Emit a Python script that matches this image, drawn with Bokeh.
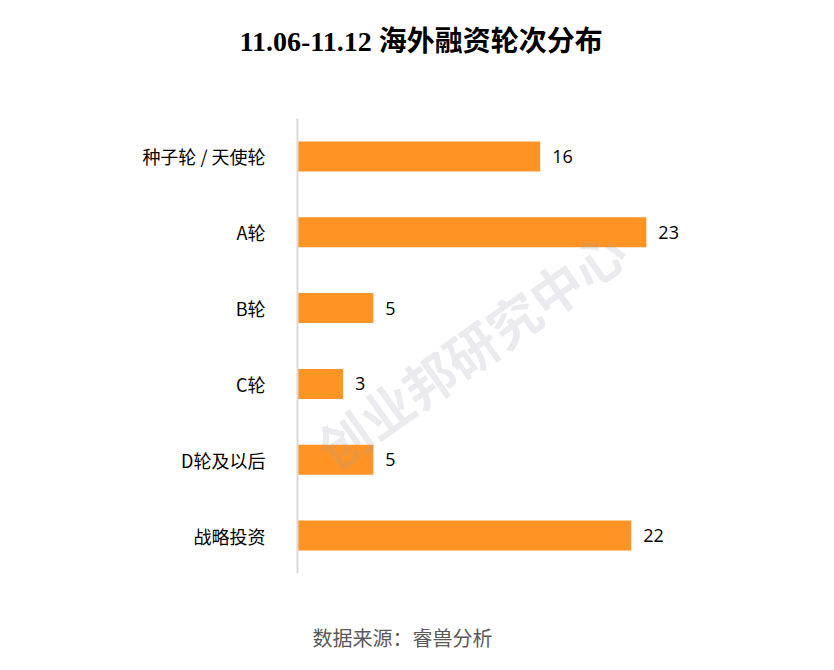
from bokeh.plotting import figure
from bokeh.models import FactorRange, Range1d, Label, ColumnDataSource, Title
from bokeh.core.properties import value
from bokeh.embed import file_html
from bokeh.resources import INLINE

categories = ["种子轮 / 天使轮", "A轮", "B轮", "C轮", "D轮及以后", "战略投资"]
counts = [16, 23, 5, 3, 5, 22]
title_text = "11.06-11.12 海外融资轮次分布"
source_text = "数据来源：睿兽分析"
watermark_text = "创业邦研究中心"

W, H = 834, 670
p = figure(width=W, height=H, output_backend="svg", toolbar_location=None,
           y_range=FactorRange(factors=categories[::-1], range_padding=0),
           x_range=Range1d(0, 30), title=None,
           min_border_left=297, min_border_right=82, min_border_top=118, min_border_bottom=97)
p.outline_line_color = None
p.xgrid.visible = False
p.ygrid.visible = False
p.xaxis.visible = False

src = ColumnDataSource(dict(cat=categories, val=counts, lab=[str(v) for v in counts]))
p.hbar(y="cat", right="val", left=0, height=0.395, source=src, color="#FF9424", line_color=None)
p.text(x="val", y="cat", text="lab", source=src, x_offset=12, text_baseline="middle",
       text_align="left", text_font=value("Open Sans"), text_font_size="18px", text_color="#000000")

ax = p.yaxis[0]
ax.axis_line_color = "#d9d9d9"
ax.axis_line_width = 2
ax.major_tick_line_color = None
ax.minor_tick_line_color = None
ax.major_tick_out = 0
ax.major_label_standoff = 32
ax.major_label_text_font = "Noto Sans CJK SC"
ax.major_label_text_font_size = "18px"
ax.major_label_text_color = "#000000"

wm = Label(x=11.4, y=2.97, text=watermark_text, angle=0.62, text_align="center",
           text_baseline="middle", text_font="Noto Sans CJK SC", text_font_size="52px",
           text_font_style="bold", text_color="#9a9ab0", text_alpha=0.2)
p.add_layout(wm)

# spacer nearest the frame, then the real title
p.add_layout(Title(text=" ", text_font_size="1px", standoff=59), "above")
t = Title(text=title_text, align="left", offset=-58, standoff=0,
          text_font="'Liberation Serif', 'Noto Sans CJK SC'", text_font_style="bold",
          text_font_size="28px", text_color="#000000")
p.add_layout(t, "above")

p.add_layout(Title(text=" ", text_font_size="1px", standoff=44), "below")
s = Title(text=source_text, align="left", offset=15, standoff=0,
          text_font="Noto Sans CJK SC", text_font_style="normal",
          text_font_size="20px", text_color="#595959")
p.add_layout(s, "below")

open("out.html", "w").write(file_html(p, INLINE))
